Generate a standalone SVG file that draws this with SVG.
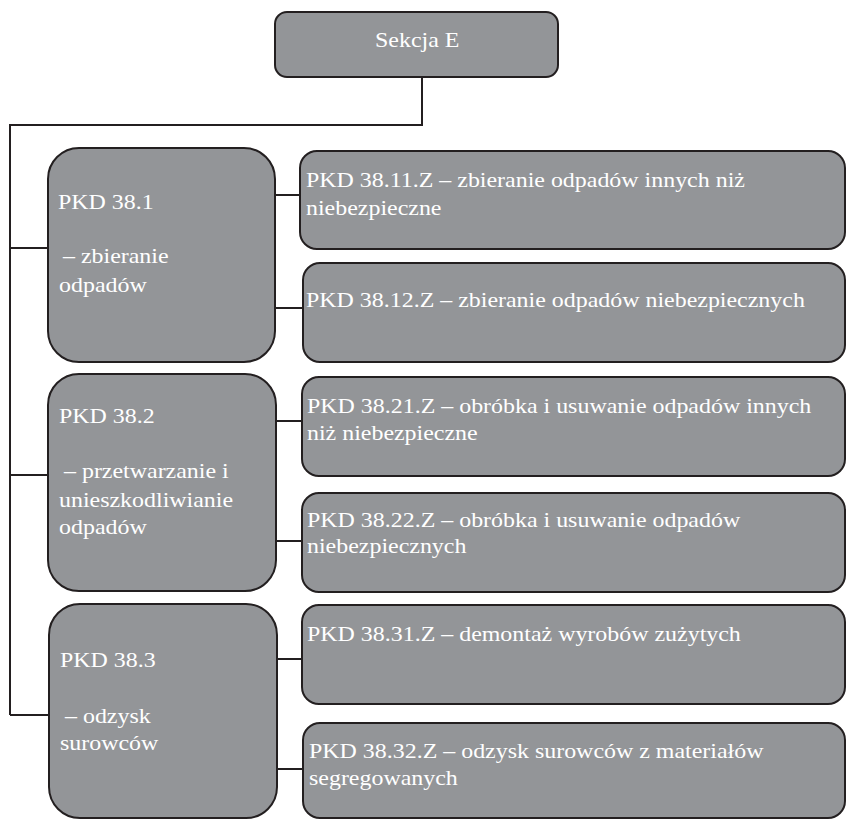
<svg xmlns="http://www.w3.org/2000/svg" width="847" height="819" viewBox="0 0 847 819">
<style>
.box{fill:#939598;stroke:#231f20;stroke-width:2}
.t{font-family:"Liberation Serif","Times New Roman",serif;font-size:21px;fill:#ffffff}
.c{fill:none;stroke:#231f20;stroke-width:2}
</style>
<rect width="847" height="819" fill="#ffffff"/>
<g id="connectors">
<polyline class="c" points="422,77 422,125 10,125 10,715"/>
<line class="c" x1="10" y1="248" x2="48" y2="248"/>
<line class="c" x1="10" y1="475" x2="48" y2="475"/>
<line class="c" x1="10" y1="715" x2="49" y2="715"/>
<line class="c" x1="275" y1="195" x2="300" y2="195"/>
<line class="c" x1="275" y1="308" x2="303" y2="308"/>
<line class="c" x1="276" y1="421" x2="302" y2="421"/>
<line class="c" x1="276" y1="541" x2="302" y2="541"/>
<line class="c" x1="277" y1="659" x2="302" y2="659"/>
<line class="c" x1="277" y1="769" x2="303" y2="769"/>
</g>
<g id="sekcja-e">
<rect class="box" x="275" y="12" width="283" height="65" rx="12"/>
<text class="t" transform="translate(375,47) scale(1.14,1)">Sekcja E</text>
</g>
<g id="pkd-38-1">
<rect class="box" x="48" y="148" width="227" height="214" rx="31"/>
<text class="t" transform="translate(58,209) scale(1.14,1)">PKD 38.1</text>
<text class="t" transform="translate(63,263) scale(1.14,1)">– zbieranie</text>
<text class="t" transform="translate(59,292) scale(1.14,1)">odpadów</text>
</g>
<g id="pkd-38-2">
<rect class="box" x="48" y="374" width="228" height="217" rx="31"/>
<text class="t" transform="translate(59,423) scale(1.14,1)">PKD 38.2</text>
<text class="t" transform="translate(64,478) scale(1.14,1)">– przetwarzanie i</text>
<text class="t" transform="translate(59,507) scale(1.14,1)">unieszkodliwianie</text>
<text class="t" transform="translate(59,534) scale(1.14,1)">odpadów</text>
</g>
<g id="pkd-38-3">
<rect class="box" x="49" y="604" width="228" height="214" rx="31"/>
<text class="t" transform="translate(60,667) scale(1.14,1)">PKD 38.3</text>
<text class="t" transform="translate(65,723) scale(1.14,1)">– odzysk</text>
<text class="t" transform="translate(60,750) scale(1.14,1)">surowców</text>
</g>
<g id="pkd-38-11-z">
<rect class="box" x="300" y="151" width="545" height="98" rx="17"/>
<text class="t" transform="translate(306,187) scale(1.14,1)">PKD 38.11.Z – zbieranie odpadów innych niż</text>
<text class="t" transform="translate(306,215) scale(1.14,1)">niebezpieczne</text>
</g>
<g id="pkd-38-12-z">
<rect class="box" x="303" y="263" width="542" height="99" rx="17"/>
<text class="t" transform="translate(306,307) scale(1.14,1)">PKD 38.12.Z – zbieranie odpadów niebezpiecznych</text>
</g>
<g id="pkd-38-21-z">
<rect class="box" x="302" y="377" width="543" height="99" rx="17"/>
<text class="t" transform="translate(307,413) scale(1.14,1)">PKD 38.21.Z – obróbka i usuwanie odpadów innych</text>
<text class="t" transform="translate(307,440) scale(1.14,1)">niż niebezpieczne</text>
</g>
<g id="pkd-38-22-z">
<rect class="box" x="302" y="493" width="543" height="99" rx="17"/>
<text class="t" transform="translate(307,527) scale(1.14,1)">PKD 38.22.Z – obróbka i usuwanie odpadów</text>
<text class="t" transform="translate(307,553) scale(1.14,1)">niebezpiecznych</text>
</g>
<g id="pkd-38-31-z">
<rect class="box" x="302" y="605" width="543" height="99" rx="17"/>
<text class="t" transform="translate(307,641) scale(1.14,1)">PKD 38.31.Z – demontaż wyrobów zużytych</text>
</g>
<g id="pkd-38-32-z">
<rect class="box" x="303" y="723" width="542" height="95" rx="17"/>
<text class="t" transform="translate(309,758) scale(1.14,1)">PKD 38.32.Z – odzysk surowców z materiałów</text>
<text class="t" transform="translate(309,785) scale(1.14,1)">segregowanych</text>
</g>
</svg>
